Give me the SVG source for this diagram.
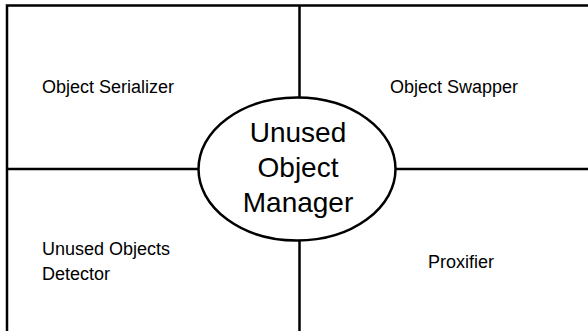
<svg xmlns="http://www.w3.org/2000/svg" width="588" height="331" viewBox="0 0 588 331">
<style>
.ln{stroke:#000;stroke-width:2.5;fill:none}
.t{font-family:"Liberation Sans",Arial,sans-serif;fill:#000}
.s{font-size:18px}
.b{font-size:28px;text-anchor:middle}
</style>
<rect width="588" height="331" fill="#fff"/>
<g id="connectors">
<path class="ln" d="M7 340 V5.5 H600"/>
<path class="ln" d="M299.5 5.5 V97"/>
<path class="ln" d="M299.5 240 V340"/>
<path class="ln" d="M7 169 H198"/>
<path class="ln" d="M395 169 H600"/>
</g>
<g id="serializer"><text class="t s" x="42" y="93">Object Serializer</text></g>
<g id="swapper"><text class="t s" x="390" y="93">Object Swapper</text></g>
<g id="detector"><text class="t s" x="42" y="255">Unused Objects</text><text class="t s" x="42" y="280">Detector</text></g>
<g id="proxifier"><text class="t s" x="428" y="268">Proxifier</text></g>
<g id="manager">
<ellipse class="ln" cx="297" cy="169" rx="98.5" ry="71.5" fill="#fff"/>
<text class="t b" x="298" y="142">Unused</text>
<text class="t b" x="298" y="177">Object</text>
<text class="t b" x="298" y="212">Manager</text>
</g>
</svg>
